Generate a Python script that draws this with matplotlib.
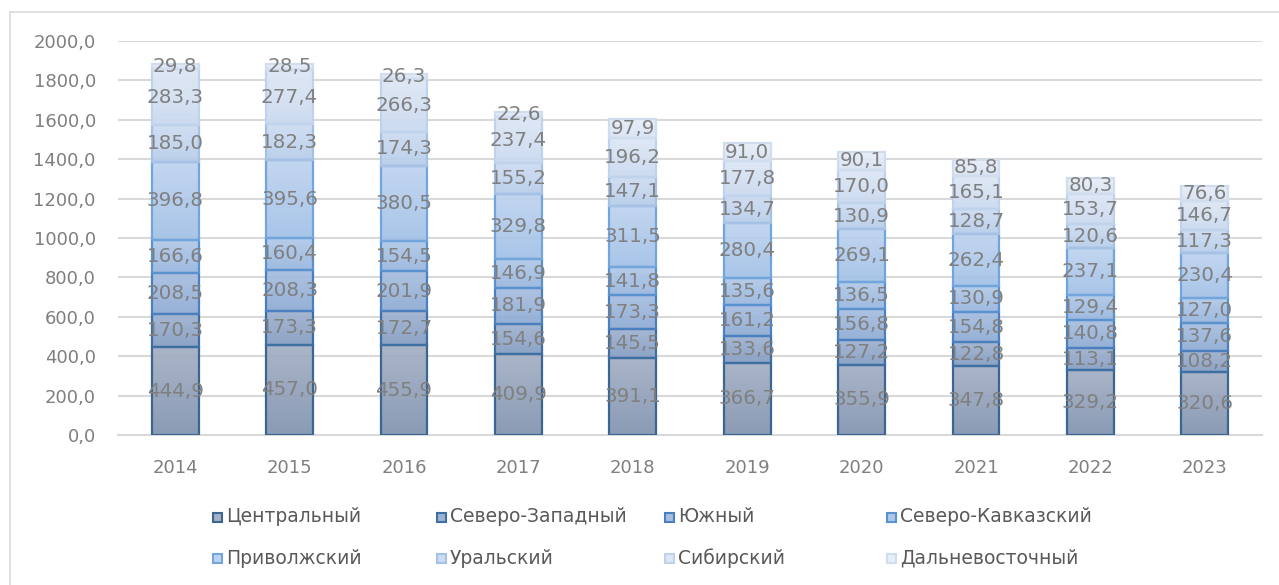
import numpy as np
import matplotlib
matplotlib.use("Agg")
import matplotlib.pyplot as plt
from matplotlib.colors import LinearSegmentedColormap
from matplotlib.patches import Rectangle
from matplotlib.lines import Line2D

years = ["2014", "2015", "2016", "2017", "2018", "2019", "2020", "2021", "2022", "2023"]
regions = ["Центральный", "Северо-Западный", "Южный", "Северо-Кавказский",
           "Приволжский", "Уральский", "Сибирский", "Дальневосточный"]

central = [444.9, 457.0, 455.9, 409.9, 391.1, 366.7, 355.9, 347.8, 329.2, 320.6]
northwest = [170.3, 173.3, 172.7, 154.6, 145.5, 133.6, 127.2, 122.8, 113.1, 108.2]
south = [208.5, 208.3, 201.9, 181.9, 173.3, 161.2, 156.8, 154.8, 140.8, 137.6]
ncaucasus = [166.6, 160.4, 154.5, 146.9, 141.8, 135.6, 136.5, 130.9, 129.4, 127.0]
volga = [396.8, 395.6, 380.5, 329.8, 311.5, 280.4, 269.1, 262.4, 237.1, 230.4]
ural = [185.0, 182.3, 174.3, 155.2, 147.1, 134.7, 130.9, 128.7, 120.6, 117.3]
siberia = [283.3, 277.4, 266.3, 237.4, 196.2, 177.8, 170.0, 165.1, 153.7, 146.7]
fareast = [29.8, 28.5, 26.3, 22.6, 97.9, 91.0, 90.1, 85.8, 80.3, 76.6]

series = [central, northwest, south, ncaucasus, volga, ural, siberia, fareast]

# (bottom, top) gradient colours and edge colours per series
grad_bottom = ["#8194b0", "#859dc2", "#8eabd3", "#98b6de", "#a2c1e7", "#b7cdea", "#cad9ef", "#d8e3f3"]
grad_top = ["#a4afc4", "#9fb2d0", "#a7bee0", "#b0c8e8", "#bed3ef", "#cddcf1", "#dde7f5", "#e7eef8"]
edge_cols = ["#3b6692", "#3e6fa3", "#4a80c0", "#5a92d0", "#72a5dc", "#a5c2e6", "#c0d3ec", "#d0ddef"]

fig = plt.figure(figsize=(12.79, 5.85), dpi=100)
ax = fig.add_axes([118 / 1279, 1 - 435 / 585, (1262 - 118) / 1279, (435 - 41) / 585])

# light border around figure (top and left)
fig.add_artist(Line2D([10 / 1279, 10 / 1279], [0, 1 - 12 / 585], transform=fig.transFigure,
                      color="#d9d9d9", lw=1.2))
fig.add_artist(Line2D([10 / 1279, 1], [1 - 12 / 585, 1 - 12 / 585], transform=fig.transFigure,
                      color="#d9d9d9", lw=1.2))

x = np.arange(len(years))
width = 0.41
bottom = np.zeros(len(years))
for i, vals in enumerate(series):
    vals = np.array(vals)
    bars = ax.bar(x, vals, width, bottom=bottom, facecolor="none",
                  edgecolor=edge_cols[i], linewidth=1.6, zorder=3)
    cmap = LinearSegmentedColormap.from_list(f"g{i}", [grad_bottom[i], grad_top[i]])
    for b in bars:
        x0, y0 = b.get_x(), b.get_y()
        w, h = b.get_width(), b.get_height()
        grad = np.linspace(0, 1, 64).reshape(-1, 1)
        ax.imshow(grad, extent=(x0, x0 + w, y0, y0 + h), origin="lower", cmap=cmap,
                  aspect="auto", zorder=2, alpha=0.93, interpolation="bilinear")
    for b, v in zip(bars, vals):
        cy = b.get_y() + b.get_height() / 2
        ax.text(b.get_x() + b.get_width() / 2, cy, f"{v:.1f}".replace(".", ","),
                ha="center", va="center", fontsize=14.3, color="#808080", zorder=5)
    bottom += vals

ax.set_xlim(-0.5, len(years) - 0.5)
ax.set_ylim(0, 2000)
ax.set_yticks(np.arange(0, 2001, 200))
ax.set_yticklabels([f"{t:.1f}".replace(".", ",") for t in np.arange(0, 2001, 200)])
ax.set_xticks(x)
ax.set_xticklabels(years)
ax.tick_params(axis="both", length=0, labelsize=13, labelcolor="#7f7f7f")
ax.tick_params(axis="y", pad=16)
ax.tick_params(axis="x", pad=17)
ax.grid(axis="y", color="#d9d9d9", lw=1.5, zorder=0)
ax.set_axisbelow(True)
for s in ["top", "right", "left"]:
    ax.spines[s].set_visible(False)
ax.spines["bottom"].set_color("#d9d9d9")
ax.spines["bottom"].set_linewidth(1.5)

# legend (Excel-like grid of 4 columns x 2 rows)
col_x = [217, 441, 669, 891]
row_y = [517, 558]
for i, name in enumerate(regions):
    cx = col_x[i % 4] / 1279
    cy = 1 - row_y[i // 4] / 585
    sw, sh = 9 / 1279, 9 / 585
    fig.add_artist(Rectangle((cx - sw / 2, cy - sh / 2), sw, sh, transform=fig.transFigure,
                             facecolor=grad_top[i], edgecolor=edge_cols[i], lw=1.5))
    fig.text(cx + 9 / 1279, cy, name, ha="left", va="center", fontsize=13.5, color="#595959")

fig.savefig("out.png", dpi=100)
